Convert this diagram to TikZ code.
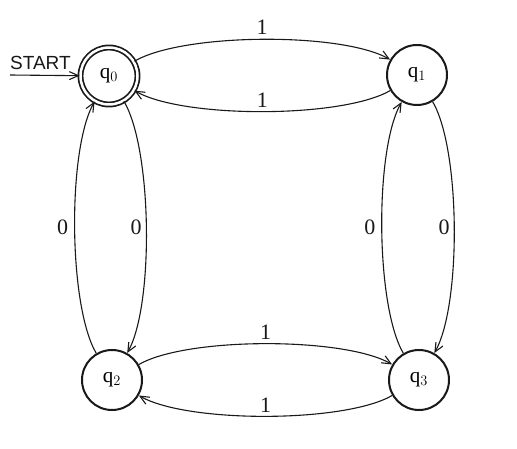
\documentclass[tikz,border=0pt]{standalone}
\usepackage{fontspec}
\setmainfont{Liberation Serif}
\newfontfamily\startfont{Liberation Sans}
\usetikzlibrary{arrows.meta}
\begin{document}
\begin{tikzpicture}[x=1pt,y=-1pt,
  state/.style={circle,draw=black!90,line width=2pt,minimum size=60pt,inner sep=0pt,font=\fontsize{21}{21}\selectfont},
  acc/.style={state,double=white,double distance=2.5pt,line width=1.7pt,minimum size=57pt},
  tr/.style={draw=black!90,line width=1.1pt,bend left=30,looseness=0.56,-{Straight Barb[length=9pt,width=8pt,line width=1.1pt]}},
  lbl/.style={font=\fontsize{22}{22}\selectfont,inner sep=0pt,text=black!90}]
\useasboundingbox (0,0) rectangle (517,449);
\node[acc] (q0) at (109,76) {q$_0$};
\node[state] (q1) at (417,75) {q$_1$};
\node[state] (q2) at (112,380) {q$_2$};
\node[state] (q3) at (419,380) {q$_3$};
\coordinate (s) at (10,75);
\node[anchor=base west,inner sep=0pt,font=\startfont\fontsize{19}{19}\selectfont,text=black!90] (st) at (10,70) {START};
\draw[tr] (s) -- (q0);
\draw[tr] (q0) to node[lbl,pos=0.5,above=4pt] (l1) {1} (q1);
\draw[tr] (q1) to node[lbl,pos=0.5,above=3pt] (l2) {1} (q0);
\draw[tr] (q2) to node[lbl,pos=0.5,left=6pt] (l3) {0} (q0);
\draw[tr] (q0) to node[lbl,pos=0.5,left=4pt] (l4) {0} (q2);
\draw[tr] (q3) to node[lbl,pos=0.5,left=6pt] (l5) {0} (q1);
\draw[tr] (q1) to node[lbl,pos=0.5,left=4pt] (l6) {0} (q3);
\draw[tr] (q2) to node[lbl,pos=0.5,above=4pt] (l7) {1} (q3);
\draw[tr] (q3) to node[lbl,pos=0.5,above=3pt] (l8) {1} (q2);
\end{tikzpicture}
\end{document}
